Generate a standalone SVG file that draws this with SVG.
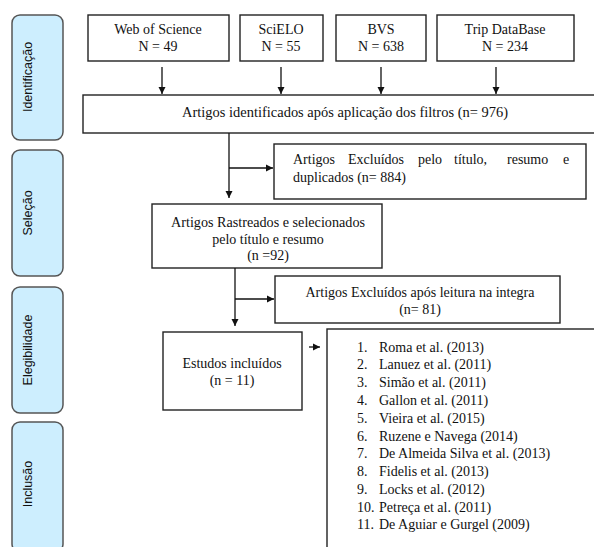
<svg xmlns="http://www.w3.org/2000/svg" width="594" height="547" viewBox="0 0 594 547">
<style>
.phase{fill:#cdeefe;stroke:#555;stroke-width:1.5}
.ptxt{font-family:"Liberation Sans",Arial,sans-serif;font-size:12.5px;fill:#111;text-anchor:middle}
.box{fill:#fff;stroke:#222;stroke-width:1.4}
.t{font-family:"Liberation Serif","Times New Roman","DejaVu Serif",serif;font-size:14px;fill:#111}
.c{text-anchor:middle}
.li{font-family:"Liberation Serif","Times New Roman","DejaVu Serif",serif;font-size:14px;fill:#111}
.ln{fill:none;stroke:#111;stroke-width:1.3}
</style>
<defs>
<marker id="ah" markerWidth="8" markerHeight="8" refX="7" refY="4" orient="auto" markerUnits="userSpaceOnUse">
<path d="M0,0.5 L7,4 L0,7.5 Z" fill="#111"/>
</marker>
</defs>
<rect width="594" height="547" fill="#fff"/>
<g id="phase-identificacao"><rect class="phase" x="12" y="15" width="51" height="125" rx="8"/><text class="ptxt" transform="translate(32,77) rotate(-90)">Identificação</text></g>
<g id="phase-selecao"><rect class="phase" x="12" y="150" width="51" height="126" rx="8"/><text class="ptxt" transform="translate(32,213) rotate(-90)">Seleção</text></g>
<g id="phase-elegibilidade"><rect class="phase" x="12" y="287" width="51" height="126" rx="8"/><text class="ptxt" transform="translate(32,350) rotate(-90)">Elegibilidade</text></g>
<g id="phase-inclusao"><rect class="phase" x="12" y="422" width="51" height="130" rx="8"/><text class="ptxt" transform="translate(32,484) rotate(-90)">Inclusão</text></g>

<g id="wos"><rect class="box" x="88" y="15" width="141" height="46"/><text class="t c" x="158" y="34">Web of Science</text><text class="t c" x="158" y="51">N = 49</text></g>
<g id="scielo"><rect class="box" x="240" y="15" width="83" height="46"/><text class="t c" x="281" y="34">SciELO</text><text class="t c" x="281" y="51">N = 55</text></g>
<g id="bvs"><rect class="box" x="336" y="15" width="90" height="46"/><text class="t c" x="381" y="34">BVS</text><text class="t c" x="381" y="51">N = 638</text></g>
<g id="trip"><rect class="box" x="437" y="15" width="137" height="46"/><text class="t c" x="505" y="34">Trip DataBase</text><text class="t c" x="505" y="51">N = 234</text></g>

<g id="identificados"><rect class="box" x="83" y="95" width="512" height="38"/><text class="t" x="182" y="117" textLength="326" lengthAdjust="spacingAndGlyphs">Artigos identificados após aplicação dos filtros (n= 976)</text></g>
<g id="excluidos1"><rect class="box" x="274" y="144" width="312" height="55"/>
<text class="t" y="164"><tspan x="293">Artigos</tspan><tspan x="348">Excluídos</tspan><tspan x="418">pelo</tspan><tspan x="454">título,</tspan><tspan x="507">resumo</tspan><tspan x="563">e</tspan></text>
<text class="t" x="293" y="182">duplicados (n= 884)</text></g>
<g id="rastreados"><rect class="box" x="152" y="204" width="230" height="64"/><text class="t c" x="268" y="227" textLength="194" lengthAdjust="spacingAndGlyphs">Artigos Rastreados e selecionados</text><text class="t c" x="268" y="244">pelo título e resumo</text><text class="t c" x="268" y="260">(n =92)</text></g>
<g id="excluidos2"><rect class="box" x="275" y="276" width="285" height="47"/><text class="t c" x="420" y="297">Artigos Excluídos após leitura na integra</text><text class="t c" x="420" y="314">(n= 81)</text></g>
<g id="estudos"><rect class="box" x="163" y="332" width="139" height="78"/><text class="t c" x="232" y="368">Estudos incluídos</text><text class="t c" x="232" y="385">(n = 11)</text></g>
<g id="lista"><rect class="box" x="327" y="329" width="280" height="230"/>
<text class="li" x="357" y="352">1.</text><text class="li" x="379" y="352">Roma et al. (2013)</text>
<text class="li" x="357" y="369">2.</text><text class="li" x="379" y="369">Lanuez et al. (2011)</text>
<text class="li" x="357" y="387">3.</text><text class="li" x="379" y="387">Simão et al. (2011)</text>
<text class="li" x="357" y="405">4.</text><text class="li" x="379" y="405">Gallon et al. (2011)</text>
<text class="li" x="357" y="423">5.</text><text class="li" x="379" y="423">Vieira et al. (2015)</text>
<text class="li" x="357" y="441">6.</text><text class="li" x="379" y="441">Ruzene e Navega (2014)</text>
<text class="li" x="357" y="458">7.</text><text class="li" x="379" y="458">De Almeida Silva  et al. (2013)</text>
<text class="li" x="357" y="476">8.</text><text class="li" x="379" y="476">Fidelis et al. (2013)</text>
<text class="li" x="357" y="494">9.</text><text class="li" x="379" y="494">Locks et al. (2012)</text>
<text class="li" x="357" y="512">10.</text><text class="li" x="379" y="512">Petreça et al. (2011)</text>
<text class="li" x="357" y="529">11.</text><text class="li" x="379" y="529">De Aguiar e Gurgel (2009)</text>
</g>

<g id="connectors">
<line class="ln" x1="162" y1="67" x2="162" y2="94" marker-end="url(#ah)"/>
<line class="ln" x1="281" y1="67" x2="281" y2="94" marker-end="url(#ah)"/>
<line class="ln" x1="381" y1="67" x2="381" y2="94" marker-end="url(#ah)"/>
<line class="ln" x1="496" y1="67" x2="496" y2="94" marker-end="url(#ah)"/>
<line class="ln" x1="229" y1="133" x2="229" y2="198" marker-end="url(#ah)"/>
<line class="ln" x1="229" y1="168" x2="273" y2="168" marker-end="url(#ah)"/>
<line class="ln" x1="235" y1="268" x2="235" y2="326" marker-end="url(#ah)"/>
<line class="ln" x1="235" y1="299" x2="274" y2="299" marker-end="url(#ah)"/>
<line class="ln" x1="309" y1="347" x2="320" y2="347" marker-end="url(#ah)"/>
</g>
</svg>
